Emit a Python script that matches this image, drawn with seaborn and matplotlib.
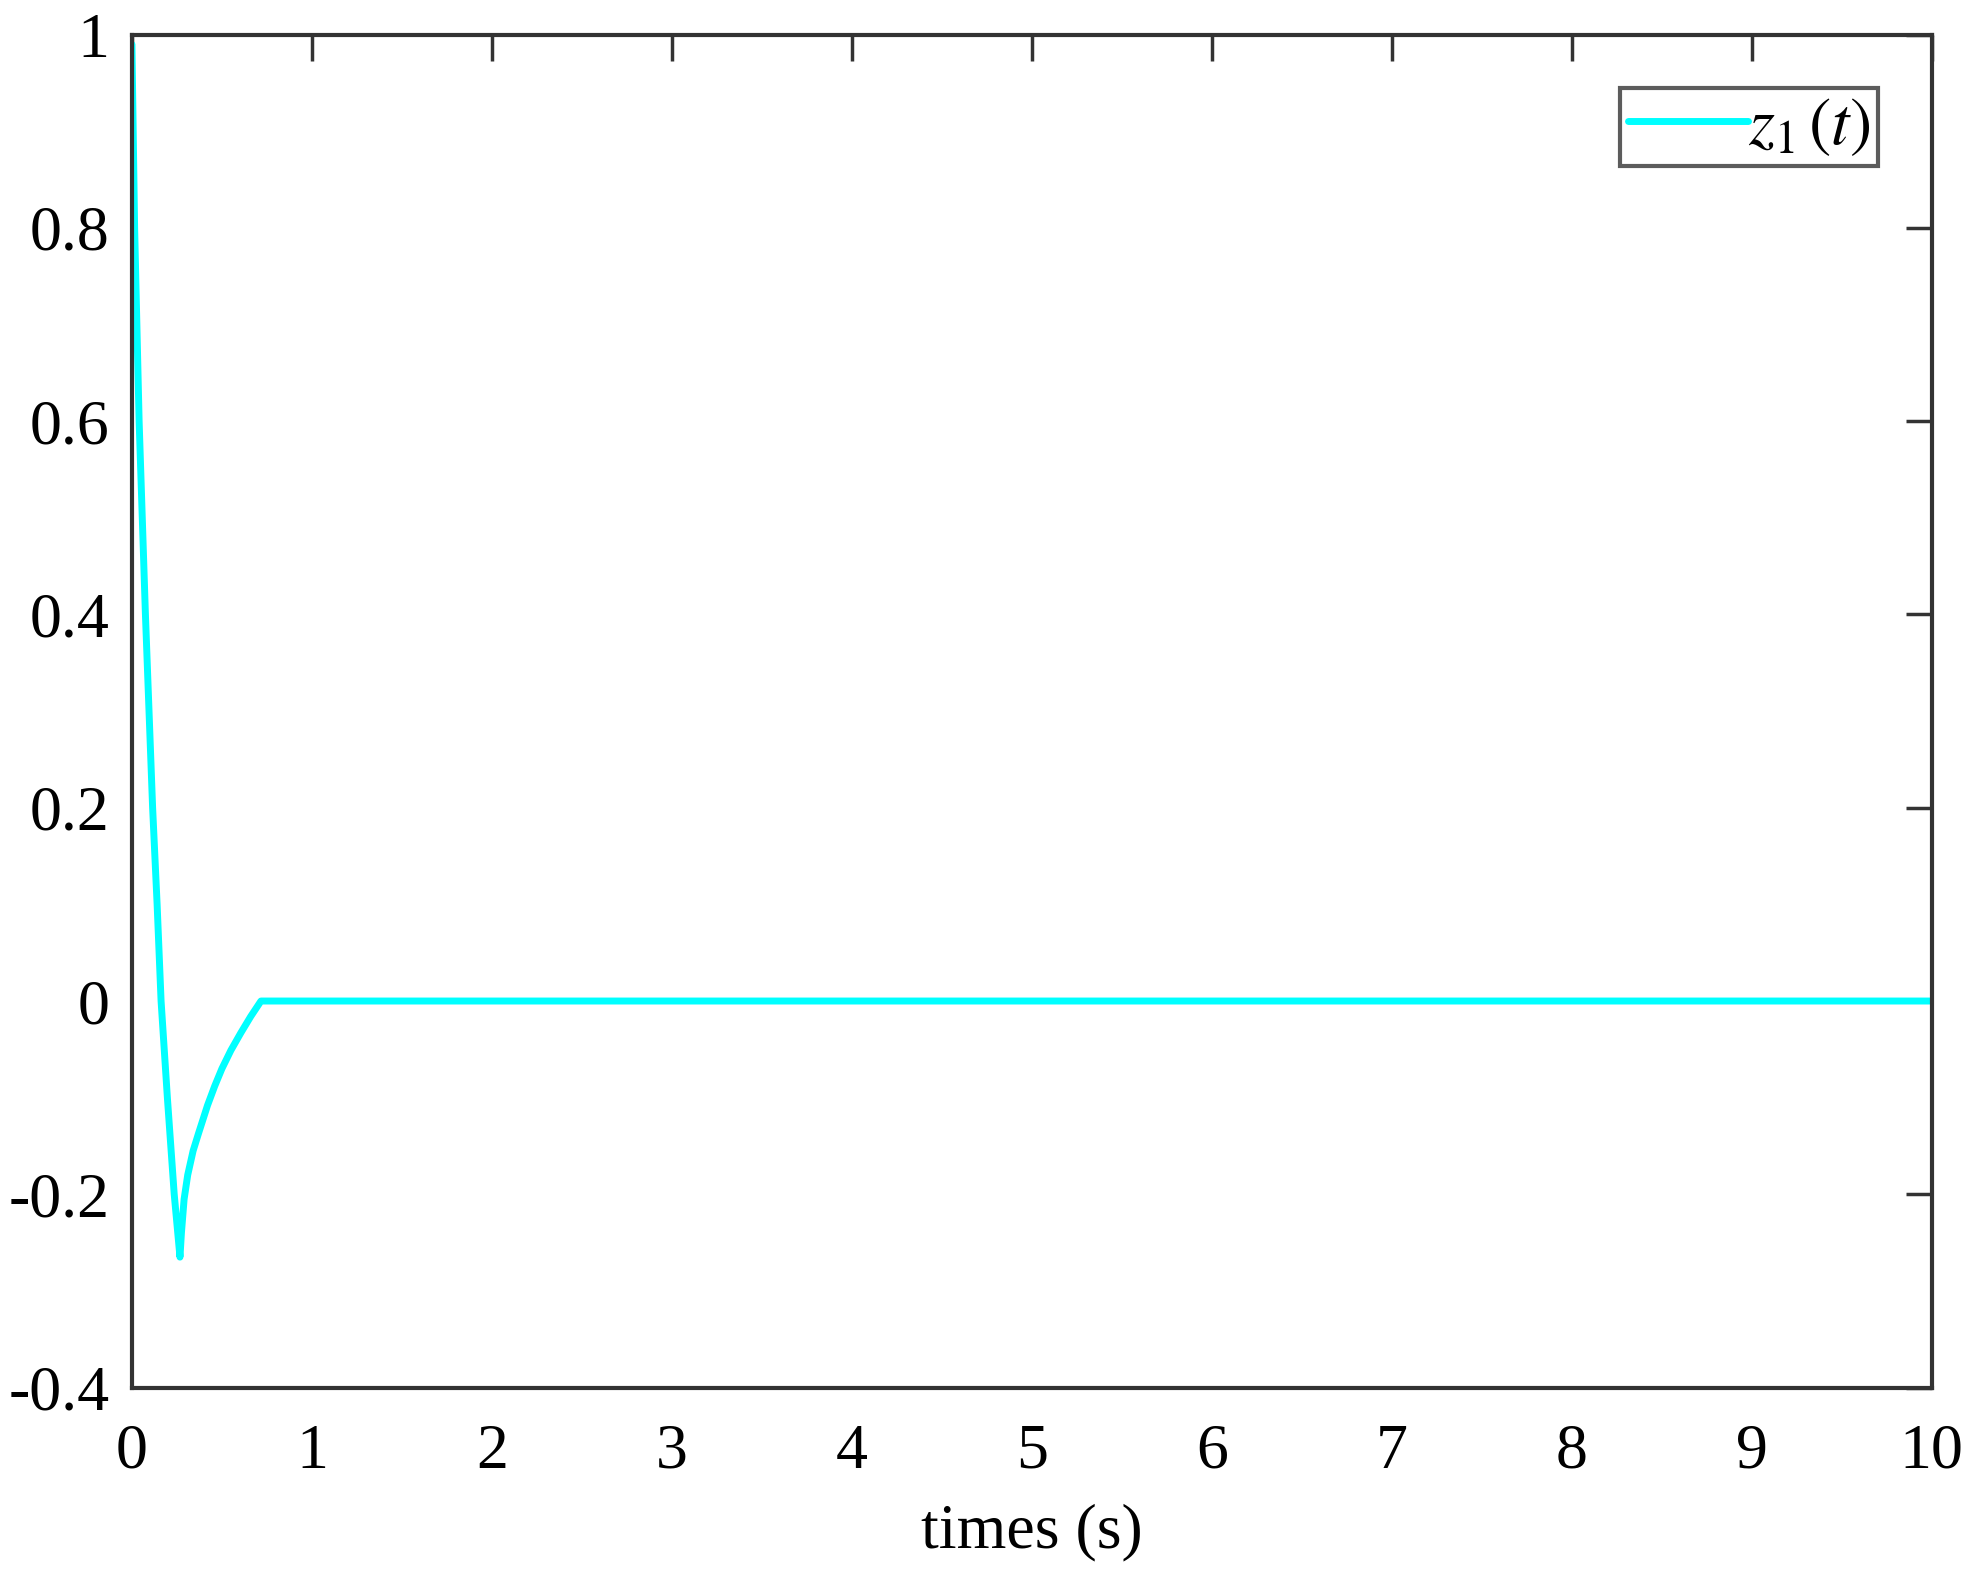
import matplotlib
matplotlib.use('Agg')
import matplotlib.pyplot as plt
import seaborn as sns
import pandas as pd

# values
t = [0.0, 0.015, 0.04, 0.075, 0.115, 0.14, 0.162, 0.197, 0.235, 0.267,
     0.275, 0.29, 0.31, 0.34, 0.37, 0.42, 0.46, 0.50, 0.55, 0.605, 0.66, 0.717,
     2.0, 4.0, 6.0, 8.0, 10.0]
z1 = [0.99, 0.80, 0.60, 0.40, 0.20, 0.10, 0.0, -0.10, -0.20, -0.265,
      -0.24, -0.205, -0.18, -0.155, -0.137, -0.108, -0.088, -0.07, -0.051, -0.033, -0.016, 0.0,
      0.0, 0.0, 0.0, 0.0, 0.0]
xticks = list(range(0, 11))
yticks = [-0.4, -0.2, 0, 0.2, 0.4, 0.6, 0.8, 1]
ytick_labels = ['-0.4', '-0.2', '0', '0.2', '0.4', '0.6', '0.8', '1']

df = pd.DataFrame({'t': t, 'z1': z1})

sns.set_style('white')
plt.rcParams['font.family'] = ['Liberation Serif', 'DejaVu Serif']
plt.rcParams['mathtext.fontset'] = 'stix'
plt.rcParams['text.color'] = 'black'
plt.rcParams['axes.labelcolor'] = 'black'

fig = plt.figure(figsize=(19.69, 15.75), dpi=100)
ax = fig.add_axes([0.067, 0.119, 0.914, 0.859])

sns.lineplot(data=df, x='t', y='z1', ax=ax, color='#00FFFF', linewidth=5,
             estimator=None, label=r'$z_1\,(t)$')

ax.set_xlim(0, 10)
ax.set_ylim(-0.4, 1)
ax.set_xticks(xticks)
ax.set_xticklabels([str(v) for v in xticks])
ax.set_yticks(yticks)
ax.set_yticklabels(ytick_labels)
ax.tick_params(axis='both', direction='in', length=19, width=2.5, color='#333333',
               labelsize=46, labelcolor='black', top=True, right=True)
ax.tick_params(axis='x', pad=26)
ax.tick_params(axis='y', pad=16)
for s in ax.spines.values():
    s.set_color('#333333')
    s.set_linewidth(3)
    s.set_visible(True)

ax.set_xlabel('times (s)', fontsize=46, labelpad=16)
ax.set_ylabel('')

leg = ax.legend(loc='upper right', fontsize=48, frameon=True, fancybox=False,
                handlelength=1.8, handletextpad=0.0, borderpad=0.12,
                borderaxespad=0.8)
leg.get_frame().set_edgecolor('#333333')
leg.get_frame().set_linewidth(3)

fig.savefig('out.png', dpi=100)
